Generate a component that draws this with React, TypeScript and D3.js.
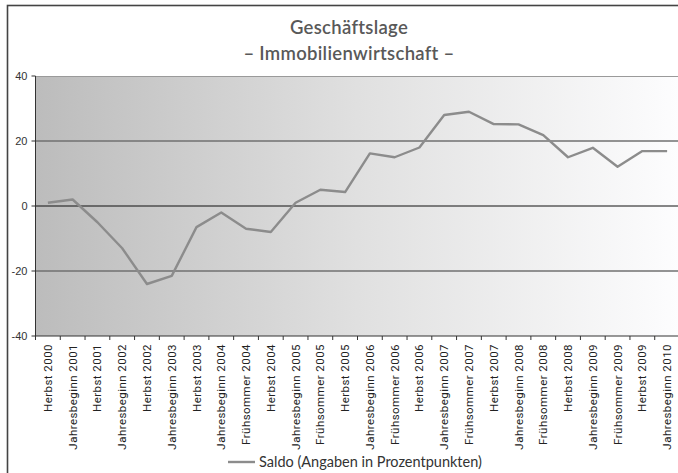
import React from "react";
import * as d3 from "d3";

const categories: string[] = [
  "Herbst 2000", "Jahresbeginn 2001", "Herbst 2001", "Jahresbeginn 2002", "Herbst 2002",
  "Jahresbeginn 2003", "Herbst 2003", "Jahresbeginn 2004", "Frühsommer 2004", "Herbst 2004",
  "Jahresbeginn 2005", "Frühsommer 2005", "Herbst 2005", "Jahresbeginn 2006", "Frühsommer 2006",
  "Herbst 2006", "Jahresbeginn 2007", "Frühsommer 2007", "Herbst 2007", "Jahresbeginn 2008",
  "Frühsommer 2008", "Herbst 2008", "Jahresbeginn 2009", "Frühsommer 2009", "Herbst 2009",
  "Jahresbeginn 2010",
];

const saldo: number[] = [
  1, 2, -5, -13, -24, -21.5, -6.5, -2, -7, -8, 1, 5, 4.3, 16.2, 15, 18,
  28, 29, 25.2, 25.1, 21.8, 15, 17.9, 12.1, 16.9, 16.9,
];

const yTicks: number[] = [-40, -20, 0, 20, 40];
const titleLines: string[] = ["Geschäftslage", "– Immobilienwirtschaft –"];
const legendLabel = "Saldo (Angaben in Prozentpunkten)";

const W = 678;
const H = 473;
const plot = { left: 35.5, top: 76, right: 679.5, bottom: 336 };

export default function App() {
  const x = d3.scaleBand<string>().domain(categories).range([plot.left, plot.right]).padding(0);
  const y = d3.scaleLinear().domain([-40, 40]).range([plot.bottom, plot.top]);
  const line = d3
    .line<number>()
    .x((_, i) => (x(categories[i]) as number) + x.bandwidth() / 2)
    .y((d) => y(d));

  const tickXs = categories.map((c) => x(c) as number).concat([plot.right]);

  return (
    <div style={{ position: "absolute", left: 0, top: 0, width: W, height: H, background: "#fff" }}>
      <svg width={W} height={H} style={{ display: "block" }}>
        <defs>
          <linearGradient id="bg" x1="0" x2="1" y1="0" y2="0">
            <stop offset="0" stopColor="#bcbcbc" />
            <stop offset="0.5" stopColor="#e0e0e0" />
            <stop offset="1" stopColor="#fdfdfe" />
          </linearGradient>
        </defs>
        {/* outer frame */}
        <rect x={7.5} y={5.5} width={W + 10} height={H + 10} fill="none" stroke="#444" strokeWidth={1.6} />

        {/* title */}
        {titleLines.map((t, i) => (
          <text
            key={t}
            x={349}
            y={34 + i * 26}
            textAnchor="middle"
            fontFamily="Lato, 'Open Sans', sans-serif"
            fontSize={18.5}
            fontWeight={600}
            letterSpacing={0.3}
            fill="#595959"
          >
            {t}
          </text>
        ))}

        {/* plot background */}
        <rect
          x={plot.left}
          y={plot.top}
          width={plot.right - plot.left}
          height={plot.bottom - plot.top}
          fill="url(#bg)"
        />
        <line x1={plot.left} x2={plot.right} y1={plot.top + 0.5} y2={plot.top + 0.5} stroke="#9a9a9a" strokeWidth={1} />

        {/* gridlines */}
        {yTicks
          .filter((t) => t !== 40 && t !== -40)
          .map((t) => (
            <line
              key={t}
              x1={plot.left}
              x2={plot.right}
              y1={y(t)}
              y2={y(t)}
              stroke={t === 0 ? "#111" : "#707070"}
              strokeWidth={t === 0 ? 1 : 1.4}
            />
          ))}

        {/* y axis */}
        <line x1={plot.left} x2={plot.left} y1={plot.top} y2={plot.bottom} stroke="#333" strokeWidth={1} />
        {yTicks.map((t) => (
          <g key={t}>
            <line x1={plot.left - 4} x2={plot.left} y1={y(t)} y2={y(t)} stroke="#333" strokeWidth={1} />
            <text
              x={plot.left - 8}
              y={y(t) + 4}
              textAnchor="end"
              fontFamily="'Liberation Sans', Arial, sans-serif"
              fontSize={11}
              fill="#333"
            >
              {t}
            </text>
          </g>
        ))}

        {/* x axis */}
        <line x1={plot.left} x2={plot.right} y1={plot.bottom} y2={plot.bottom} stroke="#333" strokeWidth={1} />
        {tickXs.map((tx, i) => (
          <line key={i} x1={tx} x2={tx} y1={plot.bottom} y2={plot.bottom + 4} stroke="#333" strokeWidth={1} />
        ))}
        {categories.map((c) => {
          const cx = (x(c) as number) + x.bandwidth() / 2 + 4;
          const cy = plot.bottom + 8;
          return (
            <text
              key={c}
              transform={`translate(${cx},${cy}) rotate(-90)`}
              textAnchor="end"
              fontFamily="Roboto, sans-serif"
              fontSize={11.5}
              letterSpacing={0.45}
              fill="#222"
            >
              {c}
            </text>
          );
        })}

        {/* series line */}
        <path d={line(saldo) || ""} fill="none" stroke="#8c8c8c" strokeWidth={2.4} strokeLinejoin="round" />

        {/* legend */}
        <line x1={228} x2={255} y1={462} y2={462} stroke="#8c8c8c" strokeWidth={2.4} />
        <text x={259} y={467} fontFamily="Lato, sans-serif" fontSize={14.5} fill="#333">
          {legendLabel}
        </text>
      </svg>
    </div>
  );
}
